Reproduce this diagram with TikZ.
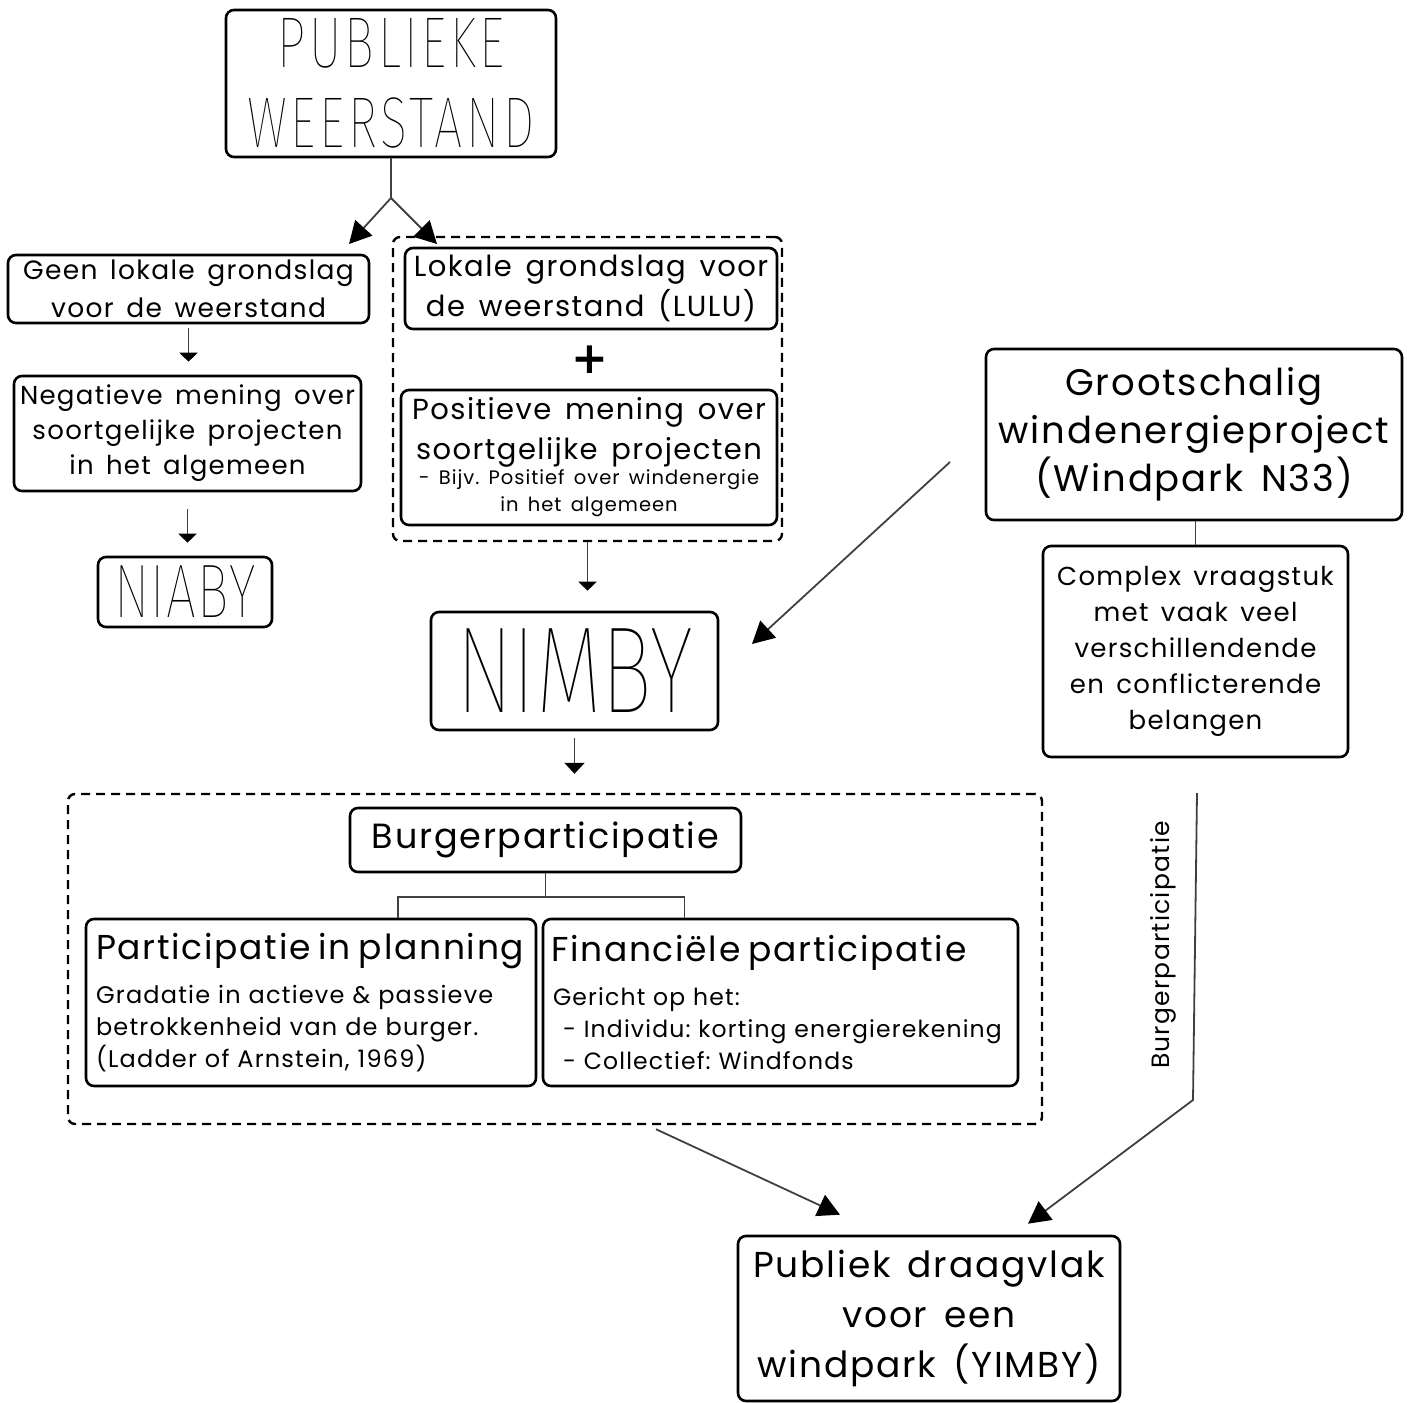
\documentclass[tikz,border=0pt]{standalone}
\usepackage{fontspec}
\setmainfont{Poppins}[LetterSpace=5, WordSpace=1.5]
\newfontfamily\thinfont{Fira Sans Thin}[FakeStretch=0.7]
\newfontfamily\plusfont{DejaVu Sans}
\usetikzlibrary{arrows.meta}
\frenchspacing

\tikzset{
  box/.style={draw, rounded corners=8pt, line width=2.6pt, align=center, inner sep=0pt},
  dashbox/.style={draw, dash pattern=on 9pt off 6pt, rounded corners=7pt, line width=2.4pt, inner sep=0pt},
  link/.style={line width=1.8pt, black!75},
  bigarrow/.style={link, -{Triangle[length=22pt,width=23pt,black]}},
  smallarrow/.style={link, line width=1.4pt, -{Triangle[length=9pt,width=18pt,black]}},
}

\begin{document}
\begin{tikzpicture}[x=1pt,y=-1pt]
    \useasboundingbox (0,0) rectangle (1414,1403);

    % top
    \node [box, minimum width=330, minimum height=147, font=\thinfont\addfontfeature{LetterSpace=5}\fontsize{72}{80}\selectfont] (pw) at (391,83.5) {PUBLIEKE\\WEERSTAND};
    \coordinate (split) at (391,198);
    \coordinate (tipL) at (349,244);
    \coordinate (tipR) at (437,244);
    \draw [link] (pw.south) -- (split);
    \draw [bigarrow] (split) -- (tipL);
    \draw [bigarrow] (split) -- (tipR);

    % left column
    \node [box, minimum width=361, minimum height=68, font=\fontsize{26.5}{38}\selectfont] (geen) at (188.5,289) {Geen lokale grondslag\\voor de weerstand};
    \node [box, minimum width=347, minimum height=115, font=\fontsize{26}{35}\selectfont] (neg) at (187.5,433.5) {Negatieve mening over\\soortgelijke projecten\\in het algemeen};
    \node [box, minimum width=174, minimum height=70, font=\thinfont\addfontfeature{LetterSpace=2}\fontsize{76}{80}\selectfont] (niaby) at (185,592) {NIABY};
    \draw [smallarrow, shorten <=4pt, shorten >=13pt] (geen.south) -- (geen.south |- neg.north);
    \draw [smallarrow, shorten <=17pt, shorten >=13pt] (neg.south) -- (neg.south |- niaby.north);

    % middle column
    \node [dashbox, minimum width=389, minimum height=304] (grp1) at (587.5,389) {};
    \node [box, minimum width=372, minimum height=81, font=\fontsize{29}{40}\selectfont] (lulu) at (591,288.5) {Lokale grondslag voor\\de weerstand (LULU)};
    \node [font=\plusfont\bfseries\fontsize{44}{44}\selectfont] (plus) at (590,360) {+};
    \node [box, minimum width=376, minimum height=135, font=\fontsize{29}{40}\selectfont] (pos) at (589,457.5) {Positieve mening over\\soortgelijke projecten\\[-15pt]\fontsize{19.5}{27}\selectfont - Bijv. Positief over windenergie\\[-13pt]\fontsize{19.5}{27}\selectfont in het algemeen};
    \node [box, minimum width=287, minimum height=118, font=\thinfont\fontsize{123}{123}\selectfont] (nimby) at (574.5,671) {NIMBY};
    \draw [smallarrow, shorten >=20pt] (grp1.south) -- (grp1.south |- nimby.north);

    % right column
    \node [box, minimum width=416, minimum height=171, font=\fontsize{37}{48}\selectfont] (groot) at (1194,434.5) {Grootschalig\\windenergieproject\\(Windpark N33)};
    \node [box, minimum width=305, minimum height=211, font=\fontsize{26}{36}\selectfont] (complex) at (1195.5,651.5) {Complex vraagstuk\\met vaak veel\\verschillendende\\en conflicterende\\belangen};
    \draw [link] (groot.south -| complex.north) -- (complex.north);
    \coordinate (gs) at (950,462);
    \coordinate (ne) at (752,644);
    \draw [bigarrow] (gs) -- (ne);

    % burgerparticipatie
    \node [dashbox, minimum width=974, minimum height=330] (grp2) at (555,959) {};
    \draw [smallarrow, line width=1.8pt, -{Triangle[length=11pt,width=20pt,black]}, shorten <=7pt, shorten >=19pt] (nimby.south) -- (nimby.south |- grp2.north);
    \node [box, minimum width=391, minimum height=64, font=\fontsize{35}{40}\selectfont] (burger) at (545.5,840) {Burgerparticipatie};
    \node [box, minimum height=167, text width=440, inner xsep=5pt, align=left, font=\fontsize{24}{32}\selectfont] (planning) at (311,1002.5) {\hspace*{5pt}\fontsize{34.5}{40}\selectfont Participatie in planning\\[12pt]\fontsize{24}{32}\selectfont\hspace*{5pt}Gradatie in actieve \& passieve\\\hspace*{5pt}betrokkenheid van de burger.\\\hspace*{5pt}(Ladder of Arnstein, 1969)};
    \node [box, minimum height=167, text width=465, inner xsep=5pt, align=left, font=\fontsize{23.5}{32}\selectfont] (financ) at (780.5,1002.5) {\hspace*{3pt}\fontsize{34.5}{40}\selectfont Financiële participatie\\[12pt]\fontsize{23.5}{32}\selectfont\hspace*{5pt}Gericht op het:\\\hspace*{15pt}- Individu: korting energierekening\\\hspace*{15pt}- Collectief: Windfonds};
    \draw [link] (burger.south) -- ++(0,24) coordinate (bj);
    \draw [link] (bj) -| ([xshift=87pt]planning.north);
    \draw [link] (bj) -| ([xshift=-96pt]financ.north);

    % bottom
    \node [box, minimum width=382, minimum height=165, font=\fontsize{36}{50}\selectfont] (yimby) at (929,1318.5) {Publiek draagvlak\\voor een\\windpark (YIMBY)};
    \draw [bigarrow] ([xshift=101pt,yshift=-4pt]grp2.south) -- ([xshift=-89pt,yshift=20pt]yimby.north);
    \coordinate (rs) at (1197,793);
    \coordinate (bend) at (1193,1100);
    \draw [bigarrow] (rs) -- (bend) -- ([xshift=99pt,yshift=11pt]yimby.north);
    \node [rotate=90, font=\fontsize{25}{25}\selectfont] (lbl) at (1163,945) {Burgerparticipatie};

\end{tikzpicture}
\end{document}
